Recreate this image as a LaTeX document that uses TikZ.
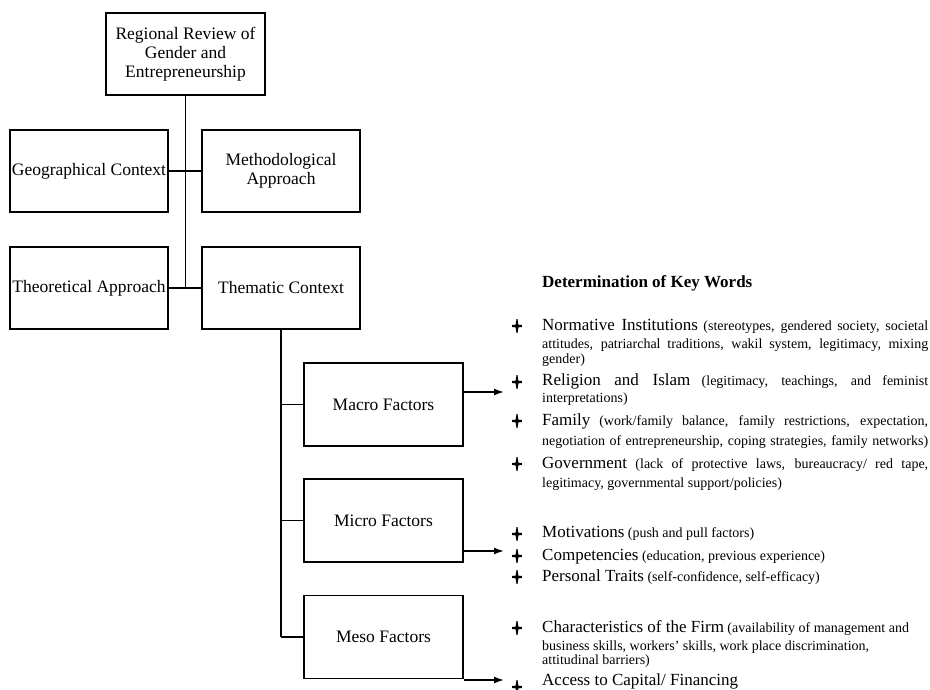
\documentclass[tikz,border=0pt]{standalone}
\usepackage{fontspec}
\setmainfont{Liberation Serif}
\usetikzlibrary{arrows.meta,calc}
\newcommand\kw[1]{{\fontsize{17}{20}\selectfont #1}}
\newcommand\jfull[1]{\makebox[386pt][s]{#1}}
\tikzset{
  box/.style={draw, line width=1.6pt, minimum width=158pt, minimum height=82pt,
    inner sep=1pt, align=center, font=\fontsize{17.5}{19}\selectfont},
  conn/.style={line width=1.6pt},
  arr/.style={line width=1.5pt, -{Latex[length=10pt,width=7pt]}},
  kwline/.style={anchor=base west, inner sep=0pt, font=\fontsize{14}{16}\selectfont},
  kwmark/.pic={\fill (-0.5,-6.8) -- (0.5,-6.8) -- (1.4,-1.3) -- (4.8,-1.1) -- (4.8,1.1) -- (1.4,1.3)
     -- (0.5,6.8) -- (-0.5,6.8) -- (-1.4,1.3) -- (-4.8,1.1) -- (-4.8,-1.1) -- (-1.4,-1.3) -- cycle;}
}
\begin{document}
\begin{tikzpicture}[x=1pt,y=-1pt]
\useasboundingbox[fill=white] (0,0) rectangle (930,689);
% boxes
\node[box, minimum width=159pt] (top) at (185.5,54) {Regional Review of\\Gender and\\Entrepreneurship};
\node[box] (geo) at (89,171) {Geographical Context};
\node[box] (meth) at (281,171) {Methodological\\Approach};
\node[box] (theo) at (89,288) {Theoretical Approach};
\node[box] (them) at (281,288) {Thematic Context};
\node[box, minimum width=159pt, minimum height=83pt] (macro) at (383.5,404.5) {Macro Factors};
\node[box, minimum width=159pt, minimum height=83pt] (micro) at (383.5,520.5) {Micro Factors};
\node[box, minimum width=159pt, minimum height=83pt] (meso) at (383.5,637) {Meso Factors};
% tree connectors
\draw[conn] (top.south) -- (top.south |- theo.east);
\draw[conn] (geo.east) -- (meth.west);
\draw[conn] (theo.east) -- (them.west);
\draw[conn] (them.south) -- (them.south |- meso.west);
\draw[conn] (them.south |- macro.west) -- (macro.west);
\draw[conn] (them.south |- micro.west) -- (micro.west);
\draw[conn] (them.south |- meso.west) -- (meso.west);
% arrows
\coordinate (a1) at (504,392);
\coordinate (a2) at (504,551);
\coordinate (a3) at (504,680);
\draw[arr] (macro.east |- a1) -- (a1);
\draw[arr] (micro.east |- a2) -- (a2);
\draw[arr] (meso.east |- a3) -- (a3);
% key words
\node[anchor=base west, inner sep=0pt, font=\bfseries\fontsize{17}{20}\selectfont] (title) at (542,287) {Determination of Key Words};
\foreach \y in {326,382,421,464,534,556,577,628,687} \pic at (517,\y) {kwmark};
\node[kwline] (n1) at (542,330) {\jfull{\kw{Normative Institutions} (stereotypes, gendered society, societal}};
\node[kwline] (n2) at (542,348) {\jfull{attitudes, patriarchal traditions, wakil system, legitimacy, mixing}};
\node[kwline] (n3) at (542,363) {gender)};
\node[kwline] (r1) at (542,385) {\jfull{\kw{Religion and Islam} (legitimacy, teachings, and feminist}};
\node[kwline] (r2) at (542,402) {interpretations)};
\node[kwline] (f1) at (542,425) {\jfull{\kw{Family} (work/family balance, family restrictions, expectation,}};
\node[kwline] (f2) at (542,445) {\jfull{negotiation of entrepreneurship, coping strategies, family networks)}};
\node[kwline] (g1) at (542,468) {\jfull{\kw{Government} (lack of protective laws, bureaucracy/ red tape,}};
\node[kwline] (g2) at (542,487) {legitimacy, governmental support/policies)};
\node[kwline] (mo) at (542,537) {\kw{Motivations} (push and pull factors)};
\node[kwline] (co) at (542,560) {\kw{Competencies} (education, previous experience)};
\node[kwline] (pt) at (542,581) {\kw{Personal Traits} (self-confidence, self-efficacy)};
\node[kwline] (c1) at (542,632) {\kw{Characteristics of the Firm} (availability of management and};
\node[kwline] (c2) at (542,650) {business skills, workers' skills, work place discrimination,};
\node[kwline] (c3) at (542,664) {attitudinal barriers)};
\node[kwline] (ac) at (542,685) {\kw{Access to Capital/ Financing}};
\end{tikzpicture}
\end{document}
